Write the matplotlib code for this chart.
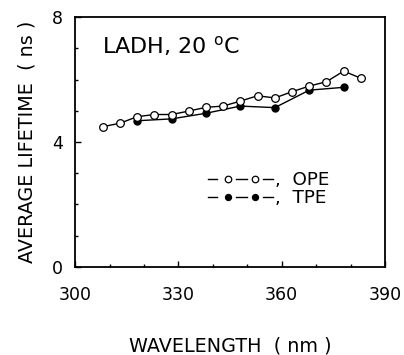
import numpy as np
import matplotlib
matplotlib.use("Agg")
import matplotlib.pyplot as plt
from matplotlib.lines import Line2D
from matplotlib.legend_handler import HandlerLine2D
from matplotlib.ticker import MultipleLocator

# data
ope_wl = [308, 313, 318, 323, 328, 333, 338, 343, 348, 353, 358, 363, 368, 373, 378, 383]
ope_tau = [4.49, 4.60, 4.81, 4.88, 4.88, 4.99, 5.11, 5.15, 5.31, 5.48, 5.41, 5.61, 5.79, 5.93, 6.27, 6.04]
tpe_wl = [318, 328, 338, 348, 358, 368, 378]
tpe_tau = [4.68, 4.74, 4.92, 5.15, 5.10, 5.66, 5.75]
x_ticks = [300, 330, 360, 390]
y_ticks = [0, 4, 8]

plt.rcParams['font.family'] = ['DejaVu Sans']


class DashMarkHandler(HandlerLine2D):
    """Legend entry drawn as - o - o - like the original figure."""

    def create_artists(self, legend, orig_handle, xdescent, ydescent,
                       width, height, fontsize, trans):
        x0 = -xdescent
        y = (height - ydescent) / 2
        f = np.array([0, 0.14, np.nan, 0.43, 0.6, np.nan, 0.85, 1.0])
        seg = Line2D(x0 + f * width, np.full_like(f, y),
                     color='black', lw=1.0)
        seg.set_transform(trans)
        mk = Line2D(x0 + np.array([0.31, 0.72]) * width, [y, y], ls='none')
        self.update_prop(mk, orig_handle, legend)
        mk.set_linestyle('none')
        mk.set_markersize(orig_handle.get_markersize() * 0.85)
        mk.set_transform(trans)
        return [seg, mk]


fig = plt.figure(figsize=(4.04, 3.55), dpi=100)
ax = fig.add_axes([0.186, 0.248, 0.767, 0.704])

h_ope, = ax.plot(ope_wl, ope_tau, color='black', lw=1.0, marker='o', ms=5.5,
                 mfc='white', mec='black', mew=0.9, zorder=3)
h_tpe, = ax.plot(tpe_wl, tpe_tau, color='black', lw=1.0, marker='o', ms=5.0,
                 mfc='black', mec='black', zorder=2)

ax.set_xlim(300, 390)
ax.set_ylim(0, 8)
ax.set_xticks(x_ticks)
ax.set_yticks(y_ticks)
ax.xaxis.set_minor_locator(MultipleLocator(10))
ax.yaxis.set_minor_locator(MultipleLocator(1))
ax.tick_params(which='both', direction='in', width=1.0, labelsize=12.5)
ax.tick_params(which='major', length=4)
ax.tick_params(which='minor', length=2.5)
ax.tick_params(axis='x', pad=14)
ax.tick_params(axis='y', pad=9)
for s in ax.spines.values():
    s.set_linewidth(1.3)

ax.set_xlabel('WAVELENGTH  ( nm )', fontsize=13.8, labelpad=23)
ax.set_ylabel('AVERAGE LIFETIME  ( ns )', fontsize=13.8, labelpad=11)

ax.text(0.087, 0.885, r'LADH, 20 $^\mathregular{o}$C', transform=ax.transAxes,
        fontsize=16, va='center', ha='left')

ax.legend([h_ope, h_tpe], [',  OPE', ',  TPE'],
          handler_map={h_ope: DashMarkHandler(), h_tpe: DashMarkHandler()},
          loc='center left', bbox_to_anchor=(0.428, 0.312), frameon=False,
          fontsize=13.2, handlelength=3.55, handletextpad=0.1,
          labelspacing=0.0, borderaxespad=0, borderpad=0)

fig.savefig('out.png', dpi=100)
